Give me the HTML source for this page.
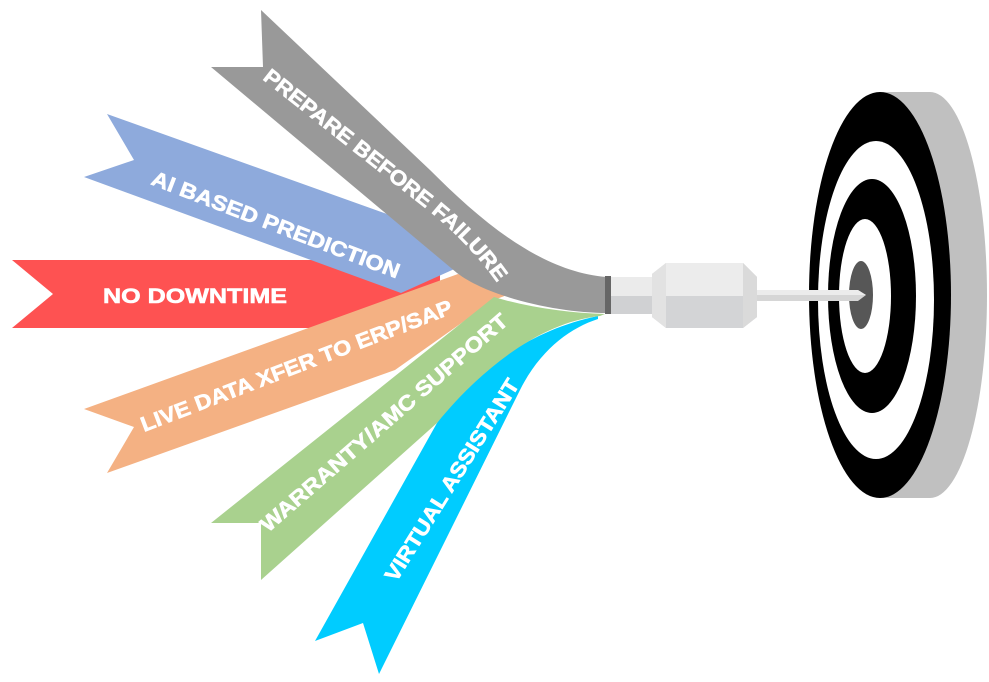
<!DOCTYPE html>
<html><head><meta charset="utf-8"><style>
html,body{margin:0;padding:0;background:#fff;width:989px;height:682px;overflow:hidden}
svg{display:block}
text{font-family:"Liberation Sans",sans-serif;font-weight:bold;fill:#fff;font-size:21px;stroke:#fff;stroke-width:0.6px}
</style></head><body>
<svg width="989" height="682" viewBox="0 0 989 682" xmlns="http://www.w3.org/2000/svg">
<defs>
<path id="pg" d="M262,79 L434,215 C458,235 484,262 502,290"/>
</defs>
<!-- target -->
<ellipse cx="930" cy="295" rx="57" ry="203" fill="#c0c0c0"/>
<rect x="880" y="92" width="50" height="406" fill="#c0c0c0"/>
<ellipse cx="880" cy="295" rx="71" ry="203" fill="#000"/>
<ellipse cx="876" cy="300" rx="58" ry="159" fill="#fff"/>
<ellipse cx="872" cy="296" rx="44" ry="117" fill="#000"/>
<ellipse cx="865" cy="296" rx="26" ry="77" fill="#fff"/>
<ellipse cx="861" cy="295" rx="12" ry="34" fill="#575757"/>
<!-- needle -->
<polygon points="757,290 858,290 866,295 858,301 757,301" fill="#d6d6d6"/>
<polygon points="757,290 858,290 866,295 757,295" fill="#ececec"/>
<!-- barrel -->
<polygon points="652,274 666,263 743,263 757,277 757,317 743,328 666,328 652,317" fill="#d3d4d6"/>
<polygon points="652,274 666,263 743,263 757,277 757,296 652,296" fill="#ececec"/>
<polygon points="652,274 666,263 666,328 652,317" fill="#e2e2e2"/>
<polygon points="743,263 757,277 757,317 743,328" fill="#dadada"/>
<!-- shaft -->
<rect x="610" y="277" width="42" height="37" fill="#d0d1d3"/>
<rect x="610" y="277" width="42" height="19" fill="#ebebeb"/>
<!-- ribbons -->
<path d="M12,260 L440,260 L440,328 L12,328 L53,294 Z" fill="#fe5252"/>
<path d="M107,114 L387,214 L470,262 L401,293 L84,177 L134,160 Z" fill="#8eaadc"/>
<path d="M84,409 L458,274 L520,290 L494,300 L395,370 L107,473 L134,427 Z" fill="#f4b183"/>
<path d="M315,641 L437,423 C475,370 530,330 598,316 L598,319 C570,328 540,350 520,390 L379,674 L363,623 Z" fill="#00ccff"/>
<path d="M211,523 L494,297 C530,308 570,313 605,314 L600,316 C540,322 480,370 437,423 L261,580 L261,523 Z" fill="#a9d18e"/>
<path d="M261,10 L430,170 C480,220 540,272 607,277 L607,313 C560,313 490,298 457,273 L211,67 L263,67 Z" fill="#999"/>
<rect x="605" y="276" width="6" height="38" fill="#666"/>
<!-- labels -->
<text><textPath href="#pg" textLength="312" lengthAdjust="spacingAndGlyphs">PREPARE BEFORE FAILURE</textPath></text>
<text transform="translate(150,184) rotate(21)" textLength="264" lengthAdjust="spacingAndGlyphs">AI BASED PREDICTION</text>
<text x="103" y="303" textLength="184" lengthAdjust="spacingAndGlyphs">NO DOWNTIME</text>
<text transform="translate(144,432) rotate(-21)" textLength="332" lengthAdjust="spacingAndGlyphs">LIVE DATA XFER TO ERP/SAP</text>
<text transform="translate(268,533) rotate(-41)" textLength="320" lengthAdjust="spacingAndGlyphs">WARRANTY/AMC SUPPORT</text>
<text transform="translate(396,583) rotate(-58)" textLength="234" lengthAdjust="spacingAndGlyphs">VIRTUAL ASSISTANT</text>
</svg>
</body></html>
